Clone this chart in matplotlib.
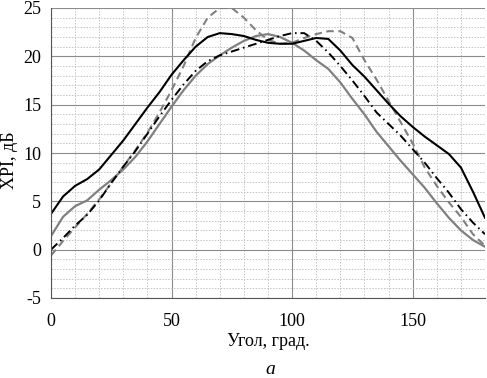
import numpy as np
import matplotlib
matplotlib.use("Agg")
import matplotlib.pyplot as plt
from matplotlib.ticker import MultipleLocator

# --- DATA ---
angle = [0, 5, 10, 15, 20, 25, 30, 35, 40, 45, 50, 55, 60, 65, 70, 75, 80, 85, 90,
         95, 100, 105, 110, 115, 120, 125, 130, 135, 140, 145, 150, 155, 160, 165,
         170, 175, 180]

black_solid = [3.7, 5.5, 6.6, 7.3, 8.3, 9.8, 11.3, 13.0, 14.7, 16.3, 18.1, 19.6, 21.0,
               22.0, 22.4, 22.3, 22.1, 21.7, 21.4, 21.3, 21.3, 21.6, 21.9, 21.8, 20.6,
               19.1, 17.9, 16.5, 15.1, 13.8, 12.7, 11.7, 10.8, 9.9, 8.5, 6.0, 3.3]

gray_solid = [1.4, 3.4, 4.5, 5.1, 6.2, 7.2, 8.3, 9.6, 11.2, 13.0, 14.8, 16.5, 18.0,
              19.2, 20.1, 20.9, 21.6, 22.1, 22.3, 22.0, 21.4, 20.6, 19.6, 18.7, 17.3,
              15.6, 14.0, 12.2, 10.7, 9.2, 7.8, 6.4, 4.8, 3.3, 2.0, 1.0, 0.3]

black_dashdot = [0.0, 1.2, 2.5, 3.6, 5.1, 6.9, 8.6, 10.2, 12.0, 13.8, 15.5, 17.1, 18.5,
                 19.5, 20.1, 20.5, 20.9, 21.3, 21.7, 22.1, 22.4, 22.4, 21.6, 20.4, 19.0,
                 17.5, 15.9, 14.2, 13.0, 11.8, 10.4, 9.0, 7.4, 5.9, 4.2, 2.8, 1.6]

gray_dashed = [-0.6, 0.9, 2.3, 3.7, 5.2, 6.9, 8.6, 10.3, 12.1, 14.2, 16.5, 19.0, 21.9,
               24.0, 25.0, 25.0, 24.0, 22.7, 21.7, 21.3, 21.4, 21.9, 22.3, 22.6, 22.6,
               21.9, 19.6, 17.6, 15.4, 13.2, 11.0, 8.5, 6.6, 4.9, 3.4, 1.6, 0.4]

plt.rcParams['font.family'] = ['Liberation Serif', 'DejaVu Serif']
plt.rcParams['axes.unicode_minus'] = False

fig = plt.figure(figsize=(4.87, 3.78), dpi=100)
ax = fig.add_axes([51 / 487, 80 / 378, 434 / 487, 290 / 378])

ax.plot(angle, gray_solid, color='#808080', lw=1.6, solid_joinstyle='round')
ax.plot(angle, gray_dashed, color='#808080', lw=1.5, dashes=(3.6, 2.2))
ax.plot(angle, black_dashdot, color='black', lw=1.4, dashes=(4.5, 2, 0.8, 2))
ax.plot(angle, black_solid, color='black', lw=1.5, solid_joinstyle='round')

ax.set_xlim(0, 180)
ax.set_ylim(-5, 25)
ax.xaxis.set_major_locator(MultipleLocator(50))
ax.xaxis.set_minor_locator(MultipleLocator(10))
ax.yaxis.set_major_locator(MultipleLocator(5))
ax.yaxis.set_minor_locator(MultipleLocator(1))

ax.grid(which='major', color='#8c8c8c', lw=0.8, ls='-')
ax.grid(which='minor', color='#c4c4c4', lw=0.7, ls=(0, (1.5, 1.5)))
ax.set_axisbelow(True)

ax.tick_params(which='both', length=0, labelsize=13)
ax.tick_params(axis='x', pad=11)
ax.tick_params(axis='y', pad=7)
for side in ['top', 'right']:
    ax.spines[side].set_visible(False)
ax.spines['left'].set_color('#555555')
ax.spines['bottom'].set_color('#555555')

ax.set_xlabel('Угол, град.', fontsize=13, labelpad=2)
fig.text(9 / 487, 1 - 160 / 378, 'ХРІ, дБ', fontsize=13, rotation=90,
         ha='center', va='center')
fig.text(270 / 487, 1 - 369 / 378, 'a', fontsize=14, style='italic',
         ha='center', va='center')

fig.savefig('out.png', dpi=100)
